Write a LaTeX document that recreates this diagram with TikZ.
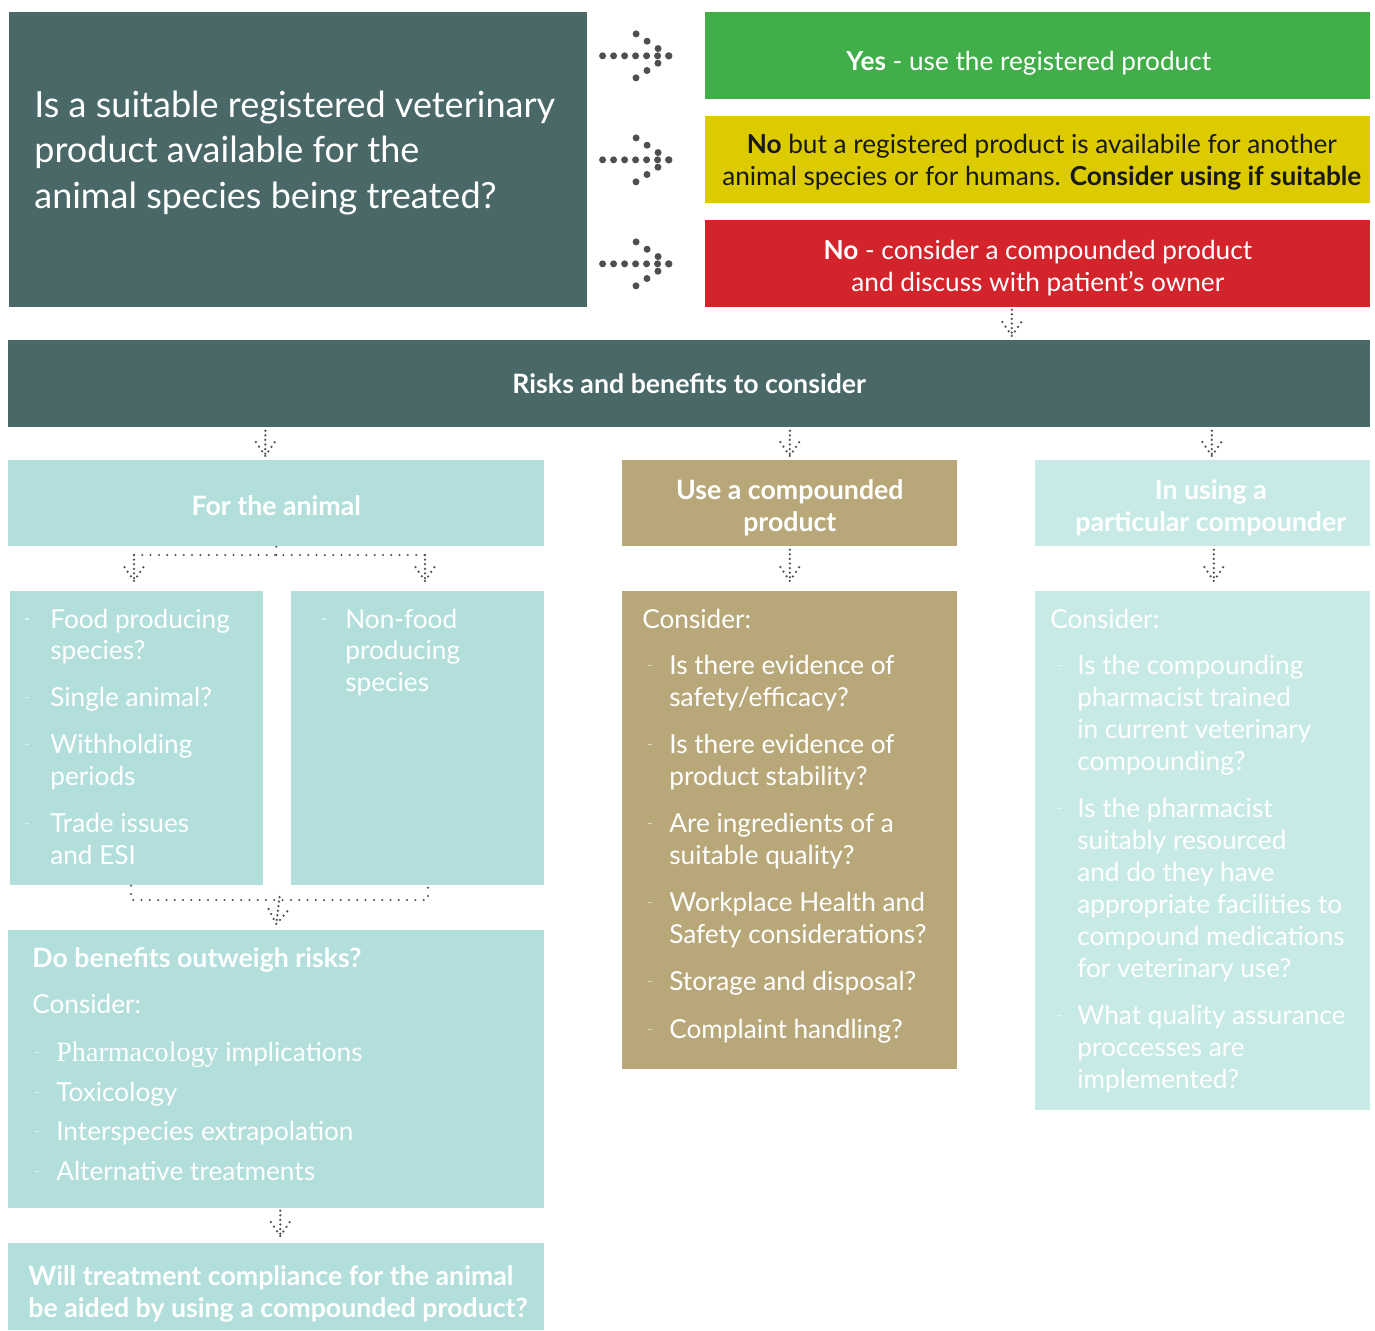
\documentclass[tikz,border=0pt]{standalone}
\usepackage{fontspec}
\setmainfont{Lato}
\newfontfamily\bookserif{Liberation Serif}
\usepackage{tikz}
\usetikzlibrary{calc,decorations.markings}
\definecolor{slate}{HTML}{4A6868}
\definecolor{okgreen}{HTML}{41AE4A}
\definecolor{maybe}{HTML}{DCCB00}
\definecolor{stopred}{HTML}{D3232B}
\definecolor{aqua}{HTML}{B2DFDB}
\definecolor{aquapale}{HTML}{C8EAE6}
\definecolor{khaki}{HTML}{B8A879}
\definecolor{dotgrey}{HTML}{4F4F4F}
\colorlet{aquadash}{aqua!45!white}
\colorlet{paledash}{aquapale!45!white}
\colorlet{khakidash}{khaki!45!white}
\newcommand\bodysize{\fontsize{14.9}{18.2}\selectfont}
\newcommand\headsize{\fontsize{15.2}{18.2}\selectfont\bfseries}
\newcommand\asksize{\fontsize{20.5}{25.9}\selectfont}
\newcommand\dashbul[1]{\textcolor{#1}{\rule[0.17cm]{0.08cm}{0.025cm}}}

\begin{document}
\begin{tikzpicture}[x=0.02cm,y=-0.02cm,
    panel/.style={fill=#1,inner sep=0pt,anchor=north west},
    boxtext/.style={inner sep=0pt,text=white,font=\bodysize,align=center},
    listtext/.style={anchor=base west,inner sep=0pt,text=white,font=\bodysize},
    bigarrow/.style={dotgrey,line width=0.14cm,line cap=round,
        dash pattern=on 0pt off 0.22cm,
        postaction={decorate,decoration={markings,mark=at position 1 with
          {\draw[dotgrey,line width=0.14cm,line cap=round,
                 dash pattern=on 0pt off 0.264cm] (-33,22)--(0,0)--(-33,-22);}}}},
    smallarrow/.style={dotgrey,line width=0.05cm,line cap=round,
        dash pattern=on 0pt off 0.092cm,
        postaction={decorate,decoration={markings,mark=at position 1 with
          {\draw[dotgrey,line width=0.05cm,line cap=round,
                 dash pattern=on 0pt off 0.112cm] (-14,9.5)--(0,0)--(-14,-9.5);}}}},
    finedots/.style={dotgrey,line width=0.045cm,line cap=round,
        dash pattern=on 0pt off 0.166cm}]
  \useasboundingbox[fill=white] (0,0) rectangle (1375,1330);

  % question and the three answers
  \node[panel=slate,minimum width=11.56cm,minimum height=5.9cm] (ask) at (9,12) {};
  \node[listtext,font=\asksize] (asktext) at (34,117) {\begin{tabular}[t]{@{}l@{}}
      Is a suitable registered veterinary\\
      product available for the\\
      animal species being treated?\end{tabular}};
  \node[panel=okgreen,minimum width=13.3cm,minimum height=1.74cm] (yes) at (705,12) {};
  \node[panel=maybe,minimum width=13.3cm,minimum height=1.74cm] (nobut) at (705,116) {};
  \node[panel=stopred,minimum width=13.3cm,minimum height=1.74cm] (nocomp) at (705,220) {};
  \node[boxtext] (yestext) at ($(yes.center)+(-9,7)$)
      {\textbf{Yes} - use the registered product};
  \node[boxtext,text=black!90] (nobuttext) at ($(nobut.center)+(4,2)$)
      {\textbf{No} but a registered product is availabile for another\\
       animal species or for humans. \textbf{Consider using if suitable}};
  \node[boxtext] (nocomptext) at ($(nocomp.center)+(0,4)$)
      {\textbf{No} - consider a compounded product\\
       and discuss with patient’s owner};
  \foreach \ans in {yes,nobut,nocomp}
    \draw[bigarrow] ($(ask.east |- \ans.west)+(15,0)$) -- ($(\ans.west)+(-36,0)$);

  % risks and benefits
  \node[panel=slate,minimum width=27.24cm,minimum height=1.74cm] (risks) at (8,340) {};
  \node[boxtext,font=\headsize] (riskstext) at (risks.center) {Risks and benefits to consider};
  \draw[smallarrow] ($(nocomp.south)+(-26,2)$) -- ($(risks.north -| nocomp.south)+(-26,-4)$);

  \node[panel=aqua,minimum width=10.72cm,minimum height=1.72cm] (animal) at (8,460) {};
  \node[panel=khaki,minimum width=6.7cm,minimum height=1.72cm] (compound) at (622,460) {};
  \node[panel=aquapale,minimum width=6.7cm,minimum height=1.72cm] (compounder) at (1035,460) {};
  \node[boxtext,font=\headsize] (animaltext) at ($(animal.center)+(0,2)$) {For the animal};
  \node[boxtext,font=\headsize] (compoundtext) at ($(compound.center)+(0,4)$)
      {Use a compounded\\ product};
  \node[boxtext,font=\headsize] (compoundertext) at ($(compounder.center)+(8,4)$)
      {In using a\\ particular compounder};
  \draw[smallarrow] ($(risks.south -| animal.north)+(-11,3)$) -- ($(animal.north)+(-11,-4)$);
  \draw[smallarrow] ($(risks.south -| compound.north)+(0,3)$) -- ($(compound.north)+(0,-4)$);
  \draw[smallarrow] ($(risks.south -| compounder.north)+(9,3)$) -- ($(compounder.north)+(9,-4)$);

  % for the animal
  \node[panel=aqua,minimum width=5.06cm,minimum height=5.88cm] (food) at (10,591) {};
  \node[panel=aqua,minimum width=5.06cm,minimum height=5.88cm] (nonfood) at (291,591) {};
  \node[listtext] (foodtext) at (25,628) {\begin{tabular}[t]{@{}p{0.5cm}@{}l@{}}
      \dashbul{aquadash} & Food producing\\ & species?\\[0.3cm]
      \dashbul{aquadash} & Single animal?\\[0.3cm]
      \dashbul{aquadash} & Withholding\\ & periods\\[0.3cm]
      \dashbul{aquadash} & Trade issues\\ & and ESI\end{tabular}};
  \node[listtext] (nonfoodtext) at (322,628) {\begin{tabular}[t]{@{}p{0.46cm}@{}l@{}}
      \dashbul{aquadash} & Non-food\\ & producing\\ & species\end{tabular}};
  \coordinate (forkL) at (134,555);
  \coordinate (forkR) at (425,555);
  \draw[finedots] (animal.south) -- (animal.south |- forkL);
  \draw[finedots] (forkL) -- (forkR);
  \draw[smallarrow] (forkL) -- ($(food.north -| forkL)+(0,-10)$);
  \draw[smallarrow] (forkR) -- ($(nonfood.north -| forkR)+(0,-10)$);

  \node[panel=aqua,minimum width=10.72cm,minimum height=5.56cm] (benefits) at (8,930) {};
  \coordinate (joinL) at (131,900);
  \coordinate (joinR) at (428,900);
  \draw[finedots] (food.south -| joinL) -- (joinL) -- (joinR) -- (nonfood.south -| joinR);
  \draw[smallarrow] ($(joinL)!0.5!(joinR)+(0,-3)$) -- ($(benefits.north)+(0,-6)$);
  \node[listtext] (benefitstext) at (32,967) {\begin{tabular}[t]{@{\hspace{0.06cm}}p{0.42cm}@{}l@{}}
      \multicolumn{2}{@{}l@{}}{\headsize Do benefits outweigh risks?}\\[0.3cm]
      \multicolumn{2}{@{}l@{}}{Consider:}\\[0.32cm]
      \dashbul{aquadash} & {\bookserif\fontsize{16}{18.2}\selectfont Pharmacology} implications\\[0.15cm]
      \dashbul{aquadash} & Toxicology\\[0.15cm]
      \dashbul{aquadash} & Interspecies extrapolation\\[0.15cm]
      \dashbul{aquadash} & Alternative treatments\end{tabular}};

  \node[panel=aqua,minimum width=10.72cm,minimum height=1.74cm] (compliance) at (8,1243) {};
  \draw[smallarrow] ($(benefits.south)+(4,2)$) -- ($(compliance.north)+(4,-7)$);
  \node[listtext,font=\headsize] (compliancetext) at (28,1285) {\begin{tabular}[t]{@{}l@{}}
      Will treatment compliance for the animal\\
      be aided by using a compounded product?\end{tabular}};

  % compounded product
  \node[panel=khaki,minimum width=6.7cm,minimum height=9.56cm] (safety) at (622,591) {};
  \draw[smallarrow] ($(compound.south)+(0,3)$) -- ($(safety.north)+(0,-10)$);
  \node[listtext] (safetytext) at (642,628) {\begin{tabular}[t]{@{\hspace{0.12cm}}p{0.42cm}@{}l@{}}
      \multicolumn{2}{@{}l@{}}{Consider:}\\[0.3cm]
      \dashbul{khakidash} & Is there evidence of\\ & safety/efficacy?\\[0.3cm]
      \dashbul{khakidash} & Is there evidence of\\ & product stability?\\[0.3cm]
      \dashbul{khakidash} & Are ingredients of a\\ & suitable quality?\\[0.3cm]
      \dashbul{khakidash} & Workplace Health and\\ & Safety considerations?\\[0.3cm]
      \dashbul{khakidash} & Storage and disposal?\\[0.32cm]
      \dashbul{khakidash} & Complaint handling?\end{tabular}};

  % particular compounder
  \node[panel=aquapale,minimum width=6.7cm,minimum height=10.38cm] (quality) at (1035,591) {};
  \draw[smallarrow] ($(compounder.south)+(11,3)$) -- ($(quality.north)+(11,-10)$);
  \node[listtext] (qualitytext) at (1050,628) {\begin{tabular}[t]{@{\hspace{0.14cm}}p{0.40cm}@{}l@{}}
      \multicolumn{2}{@{}l@{}}{Consider:}\\[0.3cm]
      \dashbul{paledash} & Is the compounding\\ & pharmacist trained\\
        & in current veterinary\\ & compounding?\\[0.3cm]
      \dashbul{paledash} & Is the pharmacist\\ & suitably resourced\\ & and do they have\\
        & appropriate facilities to\\ & compound medications\\ & for veterinary use?\\[0.3cm]
      \dashbul{paledash} & What quality assurance\\ & proccesses are\\ & implemented?\end{tabular}};
\end{tikzpicture}
\end{document}
